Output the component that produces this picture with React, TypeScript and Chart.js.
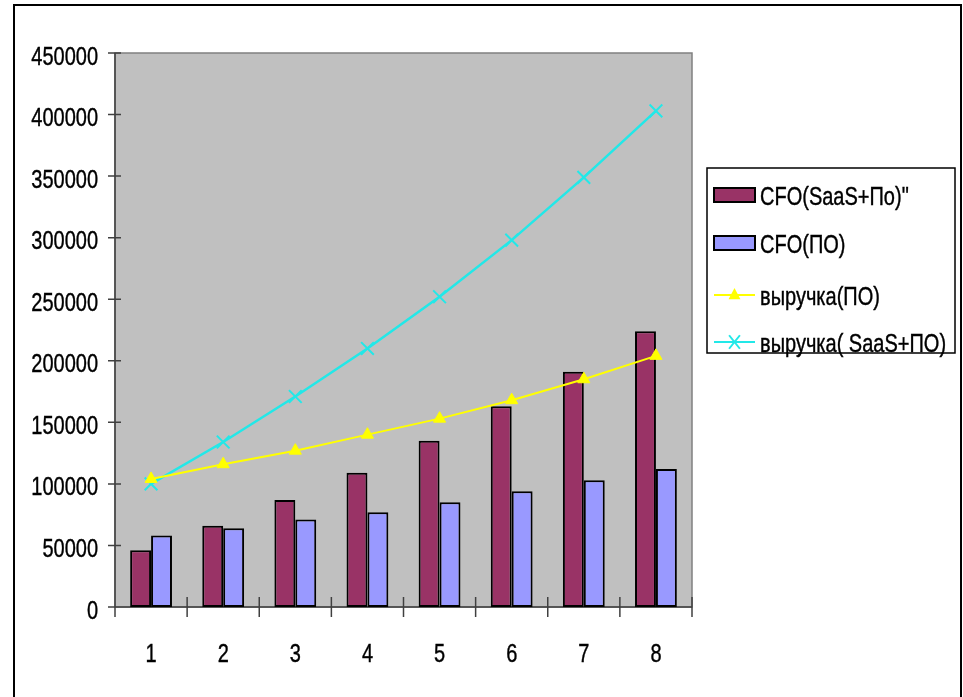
import React, { useEffect, useRef } from "react";
import { Chart, registerables } from "chart.js";

Chart.register(...registerables);

// Periods
const periods: string[] = ["1", "2", "3", "4", "5", "6", "7", "8"];

// Value axis ticks
const yMax = 450000;
const yStep = 50000;

// Cash flow series (bars)
const cfoSaasPo: number[] = [46000, 66000, 87000, 109000, 135000, 163000, 191000, 224000];
const cfoPo: number[] = [58000, 64000, 71000, 77000, 85000, 94000, 103000, 112000];

// Revenue series (lines)
const revenuePo: number[] = [104000, 116000, 127000, 140000, 153000, 168000, 185000, 204000];
const revenueSaasPo: number[] = [100000, 134000, 171000, 210000, 252000, 298000, 349000, 403000];

// Legend / series names
const seriesNames: string[] = [
  'CFO(SaaS+По)"',
  "CFO(ПО)",
  "выручка(ПО)",
  "выручка( SaaS+ПО)",
];

const FONT = '"Liberation Sans", Arial, sans-serif';
const FONT_SIZE = 25;
const SQUEEZE = 0.8; // narrow face look: horizontal compression of the text

function drawText(ctx: CanvasRenderingContext2D, text: string, x: number, y: number, align: CanvasTextAlign) {
  ctx.save();
  ctx.translate(x, y);
  ctx.scale(SQUEEZE, 1);
  ctx.font = `${FONT_SIZE}px ${FONT}`;
  ctx.fillStyle = "#000000";
  ctx.strokeStyle = "#000000";
  ctx.lineWidth = 0.4;
  ctx.textAlign = align;
  ctx.textBaseline = "alphabetic";
  ctx.fillText(text, 0, 0);
  ctx.strokeText(text, 0, 0);
  ctx.restore();
}

const decorPlugin = {
  id: "decor",
  beforeDraw(chart: any) {
    const { ctx, chartArea: a } = chart;
    ctx.save();
    ctx.fillStyle = "#ffffff";
    ctx.fillRect(0, 0, chart.width, chart.height);
    // outer frame (open at the bottom edge)
    ctx.strokeStyle = "#000000";
    ctx.lineWidth = 2;
    ctx.beginPath();
    ctx.moveTo(14, chart.height + 4);
    ctx.lineTo(14, 5);
    ctx.lineTo(961, 5);
    ctx.lineTo(961, chart.height + 4);
    ctx.stroke();
    // plot area
    ctx.fillStyle = "#c0c0c0";
    ctx.fillRect(a.left, a.top, a.right - a.left, a.bottom - a.top);
    ctx.strokeStyle = "#808080";
    ctx.lineWidth = 1.5;
    ctx.strokeRect(a.left, a.top, a.right - a.left, a.bottom - a.top);
    ctx.restore();
  },
  beforeDatasetsDraw(chart: any) {
    const { ctx, chartArea: a, scales } = chart;
    const xs = scales.x;
    const ys = scales.y;
    ctx.save();
    ctx.strokeStyle = "#404040";
    ctx.lineWidth = 1.5;
    ctx.beginPath();
    // axes
    ctx.moveTo(a.left, a.top);
    ctx.lineTo(a.left, a.bottom);
    ctx.moveTo(a.left, a.bottom);
    ctx.lineTo(a.right, a.bottom);
    // value axis tick marks (cross)
    ys.ticks.forEach((t: any) => {
      const y = ys.getPixelForValue(t.value);
      ctx.moveTo(a.left - 7, y);
      ctx.lineTo(a.left + 6, y);
    });
    // category boundary tick marks (cross)
    for (let i = 0; i <= periods.length; i++) {
      const x = xs.getPixelForValue(i - 0.5);
      ctx.moveTo(x, a.bottom - 10);
      ctx.lineTo(x, a.bottom + 10);
    }
    ctx.stroke();
    ctx.restore();

    // tick labels
    ys.ticks.forEach((t: any) => {
      const y = ys.getPixelForValue(t.value);
      drawText(ctx, String(t.value), a.left - 17, y + 11.5, "right");
    });
    xs.ticks.forEach((t: any, i: number) => {
      const x = xs.getPixelForValue(i);
      drawText(ctx, String(chart.data.labels[t.value]), x, a.bottom + 55, "center");
    });
  },
  afterDraw(chart: any) {
    const { ctx } = chart;
    ctx.save();
    // legend box
    const bx = 707, by = 168, bw = 248, bh = 185;
    ctx.fillStyle = "#ffffff";
    ctx.fillRect(bx, by, bw, bh);
    ctx.strokeStyle = "#000000";
    ctx.lineWidth = 1.5;
    ctx.strokeRect(bx, by, bw, bh);
    const rowY = [195, 243, 295, 342];
    chart.data.datasets.forEach((ds: any, i: number) => {
      const y = rowY[i];
      if (ds.type === "line") {
        ctx.strokeStyle = ds.borderColor;
        ctx.lineWidth = 2;
        ctx.beginPath();
        ctx.moveTo(714, y);
        ctx.lineTo(755, y);
        ctx.stroke();
        ctx.save();
        ctx.translate(734.5, y);
        ctx.fillStyle = ds.pointBackgroundColor;
        ctx.strokeStyle = ds.pointBorderColor;
        ctx.lineWidth = 2;
        const r = ds.pointRadius;
        if (ds.pointStyle === "triangle") {
          ctx.beginPath();
          ctx.moveTo(0, -r);
          ctx.lineTo(r * 0.85, r * 0.6);
          ctx.lineTo(-r * 0.85, r * 0.6);
          ctx.closePath();
          ctx.fill();
        } else {
          ctx.beginPath();
          ctx.moveTo(-r * 0.6, -r * 0.75);
          ctx.lineTo(r * 0.6, r * 0.75);
          ctx.moveTo(r * 0.6, -r * 0.75);
          ctx.lineTo(-r * 0.6, r * 0.75);
          ctx.stroke();
        }
        ctx.restore();
      } else {
        ctx.fillStyle = ds.backgroundColor;
        ctx.fillRect(714, y - 7, 41, 14);
        ctx.strokeStyle = "#000000";
        ctx.lineWidth = 2;
        ctx.strokeRect(714, y - 7, 41, 14);
      }
      drawText(ctx, ds.label, 760, y + 9.5, "left");
    });
    ctx.restore();
  },
};

export default function App() {
  const canvasRef = useRef<HTMLCanvasElement | null>(null);

  useEffect(() => {
    if (!canvasRef.current) return;
    const chart = new Chart(canvasRef.current, {
      type: "bar",
      data: {
        labels: periods,
        datasets: [
          {
            type: "bar",
            label: seriesNames[0],
            data: cfoSaasPo,
            backgroundColor: "#993366",
            borderColor: "#000000",
            borderWidth: 2,
            borderSkipped: false,
            categoryPercentage: 0.58,
            barPercentage: 1,
            order: 2,
          },
          {
            type: "bar",
            label: seriesNames[1],
            data: cfoPo,
            backgroundColor: "#9999ff",
            borderColor: "#000000",
            borderWidth: 2,
            borderSkipped: false,
            categoryPercentage: 0.58,
            barPercentage: 1,
            order: 2,
          },
          {
            type: "line",
            label: seriesNames[2],
            data: revenuePo,
            borderColor: "#ffff00",
            borderWidth: 2,
            pointStyle: "triangle",
            pointRadius: 7,
            pointBackgroundColor: "#ffff00",
            pointBorderColor: "#ffff00",
            pointBorderWidth: 1,
            tension: 0,
            fill: false,
            order: 1,
          },
          {
            type: "line",
            label: seriesNames[3],
            data: revenueSaasPo,
            borderColor: "#22e8e8",
            borderWidth: 2.5,
            pointStyle: "crossRot",
            pointRadius: 9,
            pointBackgroundColor: "#22e8e8",
            pointBorderColor: "#22e8e8",
            pointBorderWidth: 2,
            tension: 0,
            fill: false,
            order: 1,
          },
        ] as any,
      },
      plugins: [decorPlugin],
      options: {
        animation: false,
        responsive: false,
        layout: { padding: { left: 0, top: 53, right: 271, bottom: 0 } },
        plugins: {
          legend: { display: false },
          tooltip: { enabled: false },
        },
        scales: {
          x: {
            grid: { display: false, drawTicks: false },
            border: { display: false },
            ticks: { display: false },
            afterFit(scale: any) {
              scale.height = 90;
            },
          },
          y: {
            min: 0,
            max: yMax,
            grid: { display: false, drawTicks: false },
            border: { display: false },
            ticks: { display: false, stepSize: yStep },
            afterFit(scale: any) {
              scale.width = 115;
            },
          },
        },
      },
    } as any);
    return () => chart.destroy();
  }, []);

  return (
    <div style={{ position: "fixed", left: 0, top: 0, width: 963, height: 697, background: "#fff" }}>
      <canvas ref={canvasRef} width={963} height={697} style={{ display: "block" }} />
    </div>
  );
}
